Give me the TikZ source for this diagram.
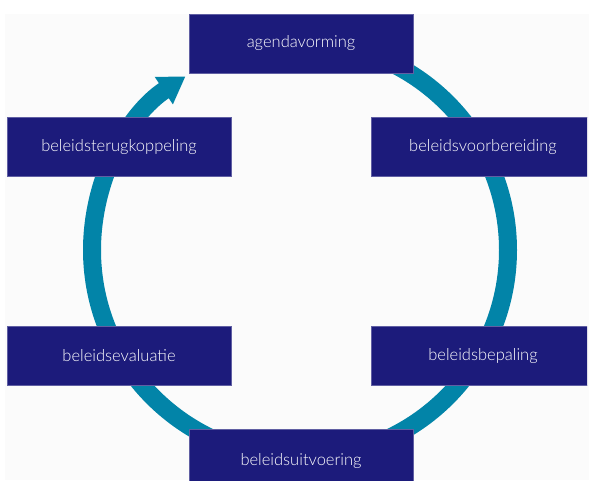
\documentclass[tikz,border=0pt]{standalone}
\usepackage{fontspec}
\setmainfont{Lato}[UprightFont=* Light]
\usetikzlibrary{arrows.meta}
\definecolor{navy}{HTML}{1C1B7B}
\definecolor{ringcol}{HTML}{0284A8}
\definecolor{bgcol}{HTML}{FBFBFB}
\begin{document}
\begin{tikzpicture}[x=1pt,y=1pt,
  stage/.style={fill=navy, draw=navy!70!white, line width=0.6pt, minimum width=224pt, minimum height=59pt, inner sep=0pt, text=white, font=\fontsize{16.5}{19}\selectfont},
  ring/.style={draw=ringcol, line width=18pt, -{Triangle[width=31pt,length=26pt]}}]
\useasboundingbox (0,0) rectangle (589,480);
\fill[bgcol] (5,0) rectangle (589,466);
\coordinate (c) at (300,230);
\begin{scope}
\clip (0,0) rectangle (587,480);
\draw[ring] ([shift={(90:208)}]c) arc[start angle=90, end angle=-236.6, radius=208];
\node[stage] (agenda) at (301,436.5) {agendavorming};
\node[stage] (voor) at (483,333) {beleidsvoorbereiding};
\node[stage] (bepaling) at (483,124) {beleidsbepaling};
\node[stage, minimum height=65pt] (uitvoering) at (301,18.5) {beleidsuitvoering};
\node[stage] (evaluatie) at (119,124) {beleidsevaluatie};
\node[stage] (terug) at (119,333) {beleidsterugkoppeling};
\end{scope}
\end{tikzpicture}
\end{document}
